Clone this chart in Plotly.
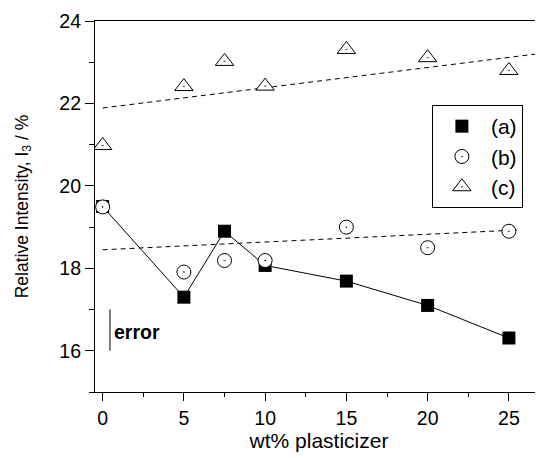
import plotly.graph_objects as go

wt = [0, 5, 7.5, 10, 15, 20, 25]
series_a = [19.5, 17.3, 18.9, 18.07, 17.69, 17.1, 16.31]
series_b = [19.49, 17.91, 18.19, 18.19, 19.0, 18.5, 18.9]
series_c = [20.98, 22.41, 23.02, 22.42, 23.31, 23.11, 22.8]

fit_b_x = [0, 25.5]
fit_b_y = [18.45, 18.93]
fit_c_x = [0, 27.1]
fit_c_y = [21.89, 23.22]

err_x = [0.45, 0.45]
err_y = [16.0, 17.0]

FONT = "Liberation Sans, Arial, sans-serif"

fig = go.Figure()

fig.add_trace(go.Scatter(x=fit_b_x, y=fit_b_y, mode="lines", showlegend=False,
                         line=dict(color="black", width=1, dash="5px,4px"), hoverinfo="skip"))
fig.add_trace(go.Scatter(x=fit_c_x, y=fit_c_y, mode="lines", showlegend=False,
                         line=dict(color="black", width=1, dash="5px,4px"), hoverinfo="skip"))
fig.add_trace(go.Scatter(x=err_x, y=err_y, mode="lines", showlegend=False,
                         line=dict(color="#555555", width=1.5), hoverinfo="skip"))

fig.add_trace(go.Scatter(x=wt, y=series_a, mode="lines", showlegend=False,
                         line=dict(color="black", width=1), hoverinfo="skip"))
fig.add_trace(go.Scatter(x=wt, y=series_a, mode="markers", name="(a)",
                         marker=dict(symbol="square", size=13, color="black")))
fig.add_trace(go.Scatter(x=wt, y=series_b, mode="markers", name="(b)",
                         marker=dict(symbol="circle-dot", size=14, color="white",
                                     line=dict(color="black", width=1))))
fig.add_trace(go.Scatter(x=wt, y=series_c, mode="markers", name="(c)",
                         marker=dict(symbol="triangle-up-dot", size=16, color="white",
                                     line=dict(color="black", width=1))))

fig.add_annotation(x=0.6, y=16.45, text="<b>error</b>", showarrow=False,
                   xanchor="left", yanchor="middle",
                   font=dict(family=FONT, size=19.5, color="black"))

fig.update_layout(
    width=535, height=450,
    margin=dict(l=87, r=0, t=13, b=66, autoexpand=False),
    paper_bgcolor="white", plot_bgcolor="white",
    font=dict(family=FONT, size=19.5, color="black"),
    legend=dict(x=0.752, y=0.7736, xanchor="left", yanchor="top",
                bordercolor="black", borderwidth=1, bgcolor="white",
                font=dict(family=FONT, size=21), itemwidth=48,
                tracegroupgap=0),
    xaxis=dict(range=[-0.47, 27.1], showgrid=False, zeroline=False, automargin=False,
               showline=True, linecolor="black", linewidth=1.2, mirror=True,
               ticks="outside", ticklen=8, tickcolor="black", tickwidth=1,
               tick0=0, dtick=5,
               minor=dict(dtick=2.5, tick0=0, ticks="outside", ticklen=4, tickcolor="black"),
               title=dict(text="wt% plasticizer", font=dict(size=21), standoff=5)),
    yaxis=dict(range=[15, 24], showgrid=False, zeroline=False, automargin=False,
               showline=True, linecolor="black", linewidth=1.2, mirror=False,
               ticks="outside", ticklen=9, tickcolor="black", tickwidth=1,
               tick0=16, dtick=2,
               minor=dict(dtick=1, tick0=15, ticks="outside", ticklen=5, tickcolor="black"),
               title=dict(text="Relative Intensity, I<sub>3</sub> / %", font=dict(size=17.5), standoff=26)),
)

fig.write_html("out.html")
